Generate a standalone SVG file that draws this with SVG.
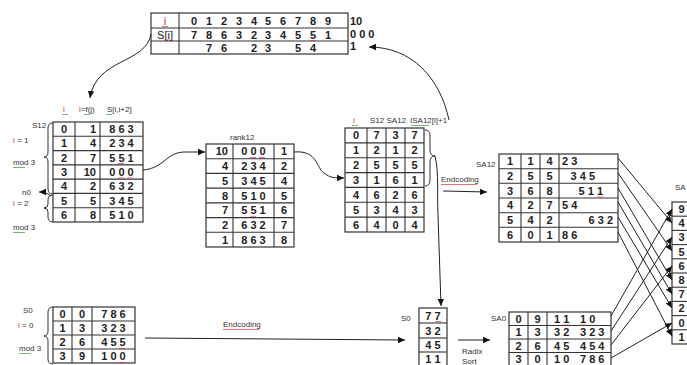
<svg xmlns="http://www.w3.org/2000/svg" width="687" height="365" viewBox="0 0 687 365">
<style>
.cell{fill:#fff;stroke:#333;stroke-width:1.2}
.ln{stroke:#333;stroke-width:1.1;fill:none}
.d{font-family:"Liberation Sans",Arial,sans-serif;font-size:11px;font-weight:bold;fill:#222;text-anchor:middle}
.dl{font-family:"Liberation Sans",Arial,sans-serif;font-size:11px;font-weight:bold;fill:#222}
.de{font-family:"Liberation Sans",Arial,sans-serif;font-size:11px;font-weight:bold;fill:#222;text-anchor:end}
.lb{font-family:"Liberation Sans",Arial,sans-serif;font-size:8px;fill:#333}
.ri{fill:#b03a2e}
.con{stroke:#222;stroke-width:1;fill:none}
.br{stroke:#333;stroke-width:1;fill:none}
.sr{stroke:#e03030;stroke-width:0.7;fill:none}
.sg{stroke:#3a9a3a;stroke-width:0.7;fill:none}
</style>
<defs>
<marker id="ah" markerWidth="8" markerHeight="8" refX="7" refY="4" orient="auto" markerUnits="userSpaceOnUse">
<path d="M0,0.8 L7,4 L0,7.2 Z" fill="#111"/>
</marker>
<path id="sq" d="M0 0 l1 1 l1 -1 l1 1 l1 -1 l1 1 l1 -1"/>
</defs>
<rect width="687" height="365" fill="#fff"/>

<g id="top-table">
<rect class="cell" x="151" y="13" width="197" height="41"/>
<line class="ln" x1="179" y1="13" x2="179" y2="54"/>
<line class="ln" x1="151" y1="28" x2="348" y2="28"/>
<line class="ln" x1="151" y1="41" x2="348" y2="41"/>
<text class="d ri" x="165" y="25" style="font-weight:normal">i</text>
<text class="d" x="165" y="38.5" style="font-weight:normal">S[i]</text>
<text class="d" x="194" y="25">0</text><text class="d" x="209" y="25">1</text><text class="d" x="224" y="25">2</text><text class="d" x="239" y="25">3</text><text class="d" x="254" y="25">4</text><text class="d" x="268" y="25">5</text><text class="d" x="283" y="25">6</text><text class="d" x="298" y="25">7</text><text class="d" x="313" y="25">8</text><text class="d" x="328" y="25">9</text>
<text class="d" x="194" y="38.5">7</text><text class="d" x="209" y="38.5">8</text><text class="d" x="224" y="38.5">6</text><text class="d" x="239" y="38.5">3</text><text class="d" x="254" y="38.5">2</text><text class="d" x="268" y="38.5">3</text><text class="d" x="283" y="38.5">4</text><text class="d" x="298" y="38.5">5</text><text class="d" x="313" y="38.5">5</text><text class="d" x="328" y="38.5">1</text>
<text class="d" x="209" y="51.5">7</text><text class="d" x="224" y="51.5">6</text><text class="d" x="254" y="51.5">2</text><text class="d" x="268" y="51.5">3</text><text class="d" x="298" y="51.5">5</text><text class="d" x="313" y="51.5">4</text>
<use href="#sq" class="sr" x="310" y="40"/>
<use href="#sq" class="sr" x="162" y="26"/>
<use href="#sq" class="sr" x="164" y="39.5"/>
<text class="dl" x="350" y="25">10</text>
<text class="dl" x="350" y="38">0 0 0</text>
<text class="dl" x="350" y="50">1</text>
</g>

<g id="s12-table">
<text class="lb ri" x="63" y="112">i</text>
<use href="#sq" class="sg" x="62" y="114"/>
<text class="lb" x="79" y="112"><tspan class="ri">i</tspan>=f(j)</text>
<use href="#sq" class="sg" x="84" y="114"/>
<text class="lb" x="107" y="112">S[i,i+2]</text>
<use href="#sq" class="sg" x="106" y="114"/>
<rect class="cell" x="53" y="122" width="90" height="100"/>
<line class="ln" x1="75" y1="122" x2="75" y2="222"/>
<line class="ln" x1="100" y1="122" x2="100" y2="222"/>
<line class="ln" x1="53" y1="136.3" x2="143" y2="136.3"/>
<line class="ln" x1="53" y1="150.6" x2="143" y2="150.6"/>
<line class="ln" x1="53" y1="164.9" x2="143" y2="164.9"/>
<line class="ln" x1="53" y1="179.1" x2="143" y2="179.1"/>
<line class="ln" x1="53" y1="193.4" x2="143" y2="193.4"/>
<line class="ln" x1="53" y1="207.7" x2="143" y2="207.7"/>
<text class="d" x="64" y="133">0</text><text class="de" x="96" y="133">1</text><text class="d" x="121.5" y="133">8 6 3</text>
<text class="d" x="64" y="147.4">1</text><text class="de" x="96" y="147.4">4</text><text class="d" x="121.5" y="147.4">2 3 4</text>
<text class="d" x="64" y="161.7">2</text><text class="de" x="96" y="161.7">7</text><text class="d" x="121.5" y="161.7">5 5 1</text>
<text class="d" x="64" y="176">3</text><text class="de" x="96" y="176">10</text><text class="d" x="121.5" y="176">0 0 0</text>
<text class="d" x="64" y="190.3">4</text><text class="de" x="96" y="190.3">2</text><text class="d" x="121.5" y="190.3">6 3 2</text>
<text class="d" x="64" y="204.6">5</text><text class="de" x="96" y="204.6">5</text><text class="d" x="121.5" y="204.6">3 4 5</text>
<text class="d" x="64" y="218.9">6</text><text class="de" x="96" y="218.9">8</text><text class="d" x="121.5" y="218.9">5 1 0</text>
<use href="#sq" class="sr" x="118" y="163"/>
<use href="#sq" class="sr" x="118" y="177.5"/>
<use href="#sq" class="sr" x="127" y="177.5"/>
<path class="br" d="M53 123 Q48 123 48 128 L48 152 Q48 157 44 157 Q48 157 48 162 L48 189 Q48 194 53 194"/>
<path class="br" d="M53 195 Q48 195 48 200 L48 204 Q48 208 44 208 Q48 208 48 212 L48 217 Q48 222 53 222"/>
<text class="lb" x="32" y="128">S12</text>
<text class="lb" x="13" y="143"><tspan class="ri">i</tspan> = 1</text>
<text class="lb" x="13" y="165">mod 3</text>
<use href="#sq" class="sg" x="13" y="167"/><use href="#sq" class="sg" x="19" y="167"/>
<text class="lb" x="22" y="195">n0</text>
<text class="lb" x="13" y="206"><tspan class="ri">i</tspan> = 2</text>
<text class="lb" x="13" y="230">mod 3</text>
<use href="#sq" class="sg" x="13" y="232"/><use href="#sq" class="sg" x="19" y="232"/>
</g>

<g id="rank12-table">
<text class="lb" x="230" y="140">rank12</text>
<rect class="cell" x="206" y="144" width="88" height="103"/>
<line class="ln" x1="233" y1="144" x2="233" y2="247"/>
<line class="ln" x1="274" y1="144" x2="274" y2="247"/>
<line class="ln" x1="206" y1="158.7" x2="294" y2="158.7"/>
<line class="ln" x1="206" y1="173.4" x2="294" y2="173.4"/>
<line class="ln" x1="206" y1="188.1" x2="294" y2="188.1"/>
<line class="ln" x1="206" y1="202.9" x2="294" y2="202.9"/>
<line class="ln" x1="206" y1="217.6" x2="294" y2="217.6"/>
<line class="ln" x1="206" y1="232.3" x2="294" y2="232.3"/>
<text class="de" x="228" y="155.4">10</text><text class="d" x="253.5" y="155.4">0 0 0</text><text class="d" x="284" y="155.4">1</text>
<text class="de" x="228" y="170.1">4</text><text class="d" x="253.5" y="170.1">2 3 4</text><text class="d" x="284" y="170.1">2</text>
<text class="de" x="228" y="184.8">5</text><text class="d" x="253.5" y="184.8">3 4 5</text><text class="d" x="284" y="184.8">4</text>
<text class="de" x="228" y="199.5">8</text><text class="d" x="253.5" y="199.5">5 1 0</text><text class="d" x="284" y="199.5">5</text>
<text class="de" x="228" y="214.2">7</text><text class="d" x="253.5" y="214.2">5 5 1</text><text class="d" x="284" y="214.2">6</text>
<text class="de" x="228" y="229">2</text><text class="d" x="253.5" y="229">6 3 2</text><text class="d" x="284" y="229">7</text>
<text class="de" x="228" y="243.7">1</text><text class="d" x="253.5" y="243.7">8 6 3</text><text class="d" x="284" y="243.7">8</text>
<use href="#sq" class="sr" x="250" y="157"/><use href="#sq" class="sr" x="259" y="157"/>
<use href="#sq" class="sr" x="250" y="215.8"/>
</g>

<g id="isa12-table">
<text class="lb ri" x="353" y="123">i</text>
<use href="#sq" class="sg" x="352" y="125"/>
<text class="lb" x="370" y="123">S12 SA12</text>
<text class="lb" x="410" y="123">ISA12[i]+1</text>
<use href="#sq" class="sg" x="411" y="125"/><use href="#sq" class="sg" x="417" y="125"/><use href="#sq" class="sg" x="423" y="125"/>
<rect class="cell" x="345" y="128" width="79" height="104"/>
<line class="ln" x1="367" y1="128" x2="367" y2="232"/>
<line class="ln" x1="386" y1="128" x2="386" y2="232"/>
<line class="ln" x1="405" y1="128" x2="405" y2="232"/>
<line class="ln" x1="345" y1="142.9" x2="424" y2="142.9"/>
<line class="ln" x1="345" y1="157.7" x2="424" y2="157.7"/>
<line class="ln" x1="345" y1="172.6" x2="424" y2="172.6"/>
<line class="ln" x1="345" y1="187.4" x2="424" y2="187.4"/>
<line class="ln" x1="345" y1="202.3" x2="424" y2="202.3"/>
<line class="ln" x1="345" y1="217.1" x2="424" y2="217.1"/>
<text class="d" x="356" y="139.4">0</text><text class="d" x="376.5" y="139.4">7</text><text class="d" x="395.5" y="139.4">3</text><text class="d" x="414.5" y="139.4">7</text>
<text class="d" x="356" y="154.3">1</text><text class="d" x="376.5" y="154.3">2</text><text class="d" x="395.5" y="154.3">1</text><text class="d" x="414.5" y="154.3">2</text>
<text class="d" x="356" y="169.1">2</text><text class="d" x="376.5" y="169.1">5</text><text class="d" x="395.5" y="169.1">5</text><text class="d" x="414.5" y="169.1">5</text>
<text class="d" x="356" y="184">3</text><text class="d" x="376.5" y="184">1</text><text class="d" x="395.5" y="184">6</text><text class="d" x="414.5" y="184">1</text>
<text class="d" x="356" y="198.8">4</text><text class="d" x="376.5" y="198.8">6</text><text class="d" x="395.5" y="198.8">2</text><text class="d" x="414.5" y="198.8">6</text>
<text class="d" x="356" y="213.7">5</text><text class="d" x="376.5" y="213.7">3</text><text class="d" x="395.5" y="213.7">4</text><text class="d" x="414.5" y="213.7">3</text>
<text class="d" x="356" y="228.5">6</text><text class="d" x="376.5" y="228.5">4</text><text class="d" x="395.5" y="228.5">0</text><text class="d" x="414.5" y="228.5">4</text>
<path class="br" d="M425 130 Q430 130 430 135 L430 150 Q430 156 435 156 Q430 156 430 162 L430 180 Q430 186 425 186"/>
<text class="lb" x="441" y="182">Endcoding</text>
<use href="#sq" class="sr" x="441" y="184"/><use href="#sq" class="sr" x="447" y="184"/><use href="#sq" class="sr" x="453" y="184"/><use href="#sq" class="sr" x="459" y="184"/><use href="#sq" class="sr" x="465" y="184"/><use href="#sq" class="sr" x="471" y="184"/>
</g>

<g id="sa12-table">
<text class="lb" x="476" y="167">SA12</text>
<rect class="cell" x="499" y="154" width="119" height="88"/>
<line class="ln" x1="521" y1="154" x2="521" y2="242"/>
<line class="ln" x1="540" y1="154" x2="540" y2="242"/>
<line class="ln" x1="559" y1="154" x2="559" y2="242"/>
<line class="ln" x1="499" y1="168.7" x2="618" y2="168.7"/>
<line class="ln" x1="499" y1="183.3" x2="618" y2="183.3"/>
<line class="ln" x1="499" y1="198" x2="618" y2="198"/>
<line class="ln" x1="499" y1="212.7" x2="618" y2="212.7"/>
<line class="ln" x1="499" y1="227.3" x2="618" y2="227.3"/>
<text class="d" x="510" y="165.3">1</text><text class="d" x="530.5" y="165.3">1</text><text class="d" x="549.5" y="165.3">4</text><text class="dl" x="562" y="165.3">2 3</text>
<text class="d" x="510" y="180">2</text><text class="d" x="530.5" y="180">5</text><text class="d" x="549.5" y="180">5</text><text class="de" x="595" y="180">3 4 5</text>
<text class="d" x="510" y="194.7">3</text><text class="d" x="530.5" y="194.7">6</text><text class="d" x="549.5" y="194.7">8</text><text class="de" x="603" y="194.7">5 1 1</text>
<text class="d" x="510" y="209.3">4</text><text class="d" x="530.5" y="209.3">2</text><text class="d" x="549.5" y="209.3">7</text><text class="dl" x="562" y="209.3">5 4</text>
<text class="d" x="510" y="224">5</text><text class="d" x="530.5" y="224">4</text><text class="d" x="549.5" y="224">2</text><text class="de" x="613" y="224">6 3 2</text>
<text class="d" x="510" y="238.7">6</text><text class="d" x="530.5" y="238.7">0</text><text class="d" x="549.5" y="238.7">1</text><text class="dl" x="562" y="238.7">8 6</text>
<use href="#sq" class="sr" x="597" y="196.5"/>
</g>

<g id="sa-table">
<text class="lb" x="675" y="190">SA</text>
<rect class="cell" x="672" y="202" width="20" height="142"/>
<line class="ln" x1="672" y1="216.2" x2="692" y2="216.2"/>
<line class="ln" x1="672" y1="230.4" x2="692" y2="230.4"/>
<line class="ln" x1="672" y1="244.6" x2="692" y2="244.6"/>
<line class="ln" x1="672" y1="258.8" x2="692" y2="258.8"/>
<line class="ln" x1="672" y1="273" x2="692" y2="273"/>
<line class="ln" x1="672" y1="287.2" x2="692" y2="287.2"/>
<line class="ln" x1="672" y1="301.4" x2="692" y2="301.4"/>
<line class="ln" x1="672" y1="315.6" x2="692" y2="315.6"/>
<line class="ln" x1="672" y1="329.8" x2="692" y2="329.8"/>
<text class="d" x="681.5" y="213">9</text>
<text class="d" x="681.5" y="227.2">4</text>
<text class="d" x="681.5" y="241.4">3</text>
<text class="d" x="681.5" y="255.6">5</text>
<text class="d" x="681.5" y="269.8">6</text>
<text class="d" x="681.5" y="284">8</text>
<text class="d" x="681.5" y="298.2">7</text>
<text class="d" x="681.5" y="312.4">2</text>
<text class="d" x="681.5" y="326.6">0</text>
<text class="d" x="681.5" y="340.8">1</text>
</g>

<g id="s0-source-table">
<text class="lb" x="23" y="313">S0</text>
<text class="lb" x="18" y="328"><tspan class="ri">i</tspan> = 0</text>
<text class="lb" x="19" y="351">mod 3</text>
<use href="#sq" class="sg" x="19" y="353"/><use href="#sq" class="sg" x="25" y="353"/>
<rect class="cell" x="53" y="307" width="82" height="56"/>
<line class="ln" x1="72" y1="307" x2="72" y2="363"/>
<line class="ln" x1="92" y1="307" x2="92" y2="363"/>
<line class="ln" x1="53" y1="321" x2="135" y2="321"/>
<line class="ln" x1="53" y1="335" x2="135" y2="335"/>
<line class="ln" x1="53" y1="349" x2="135" y2="349"/>
<text class="d" x="62.5" y="318">0</text><text class="d" x="82" y="318">0</text><text class="d" x="113.5" y="318">7 8 6</text>
<text class="d" x="62.5" y="332">1</text><text class="d" x="82" y="332">3</text><text class="d" x="113.5" y="332">3 2 3</text>
<text class="d" x="62.5" y="346">2</text><text class="d" x="82" y="346">6</text><text class="d" x="113.5" y="346">4 5 5</text>
<text class="d" x="62.5" y="360">3</text><text class="d" x="82" y="360">9</text><text class="d" x="113.5" y="360">1 0 0</text>
<use href="#sq" class="sr" x="119" y="348"/>
<use href="#sq" class="sr" x="119" y="362"/>
<path class="br" d="M53 307 Q48 307 48 312 L48 331 Q48 336 44 336 Q48 336 48 341 L48 359 Q48 364 53 364"/>
<text class="lb" x="223" y="327">Endcoding</text>
<use href="#sq" class="sr" x="223" y="329"/><use href="#sq" class="sr" x="229" y="329"/><use href="#sq" class="sr" x="235" y="329"/><use href="#sq" class="sr" x="241" y="329"/><use href="#sq" class="sr" x="247" y="329"/><use href="#sq" class="sr" x="253" y="329"/>
</g>

<g id="s0-table">
<text class="lb" x="401" y="321">S0</text>
<rect class="cell" x="419" y="308" width="28" height="60"/>
<line class="ln" x1="419" y1="323" x2="447" y2="323"/>
<line class="ln" x1="419" y1="338" x2="447" y2="338"/>
<line class="ln" x1="419" y1="352" x2="447" y2="352"/>
<text class="d" x="433" y="319.5">7 7</text>
<text class="d" x="433" y="334.5">3 2</text>
<text class="d" x="433" y="349">4 5</text>
<text class="d" x="433" y="363">1 1</text>
<use href="#sq" class="sr" x="435" y="321"/>
<text class="lb" x="462" y="354">Radix</text>
<text class="lb" x="462" y="363.5">Sort</text>
</g>

<g id="sa0-table">
<text class="lb" x="491" y="321">SA0</text>
<rect class="cell" x="509" y="312" width="102" height="58"/>
<line class="ln" x1="528" y1="312" x2="528" y2="370"/>
<line class="ln" x1="547" y1="312" x2="547" y2="370"/>
<line class="ln" x1="509" y1="325.5" x2="611" y2="325.5"/>
<line class="ln" x1="509" y1="339" x2="611" y2="339"/>
<line class="ln" x1="509" y1="352.5" x2="611" y2="352.5"/>
<text class="d" x="518.5" y="322.5">0</text><text class="d" x="537.5" y="322.5">9</text><text class="dl" x="554" y="322.5">1 1</text><text class="dl" x="580" y="322.5">1 0</text>
<text class="d" x="518.5" y="336">1</text><text class="d" x="537.5" y="336">3</text><text class="dl" x="554" y="336">3 2</text><text class="dl" x="580" y="336">3 2 3</text>
<text class="d" x="518.5" y="349.5">2</text><text class="d" x="537.5" y="349.5">6</text><text class="dl" x="554" y="349.5">4 5</text><text class="dl" x="580" y="349.5">4 5 4</text>
<text class="d" x="518.5" y="363">3</text><text class="d" x="537.5" y="363">0</text><text class="dl" x="554" y="363">1 0</text><text class="dl" x="580" y="363">7 8 6</text>
<use href="#sq" class="sr" x="563" y="324.5"/><use href="#sq" class="sr" x="580" y="324.5"/>
</g>

<g id="connectors">
<path class="con" d="M151 34 C146 64 96 58 90 98" marker-end="url(#ah)"/>
<path class="con" d="M449 120 C440 78 412 47 369 47" marker-end="url(#ah)"/>
<path class="con" d="M143 170 C165 168 166 152 185 152 L205 152" marker-end="url(#ah)"/>
<path class="con" d="M294 152 C318 150 316 168 324 173 C330 178 335 178 344 178" marker-end="url(#ah)"/>
<path class="con" d="M51 196 C47 193 44 192 39 192" marker-end="url(#ah)"/>
<path class="con" d="M435 156 C439 172 437 195 438 215 L441 306" marker-end="url(#ah)"/>
<path class="con" d="M443 191 L487 192" marker-end="url(#ah)"/>
<path class="con" d="M145 338 L405 340" marker-end="url(#ah)"/>
<path class="con" d="M458 340 L490 340" marker-end="url(#ah)"/>
<path class="con" d="M618 158 L672 223" marker-end="url(#ah)"/>
<path class="con" d="M618 173 L672 251" marker-end="url(#ah)"/>
<path class="con" d="M618 188 L672 280" marker-end="url(#ah)"/>
<path class="con" d="M618 202 L672 294" marker-end="url(#ah)"/>
<path class="con" d="M618 217 L672 308" marker-end="url(#ah)"/>
<path class="con" d="M618 232 L672 336" marker-end="url(#ah)"/>
<path class="con" d="M611 316 L672 209" marker-end="url(#ah)"/>
<path class="con" d="M611 331 L672 237" marker-end="url(#ah)"/>
<path class="con" d="M611 345 L672 266" marker-end="url(#ah)"/>
<path class="con" d="M611 358 L672 323" marker-end="url(#ah)"/>
</g>
</svg>
